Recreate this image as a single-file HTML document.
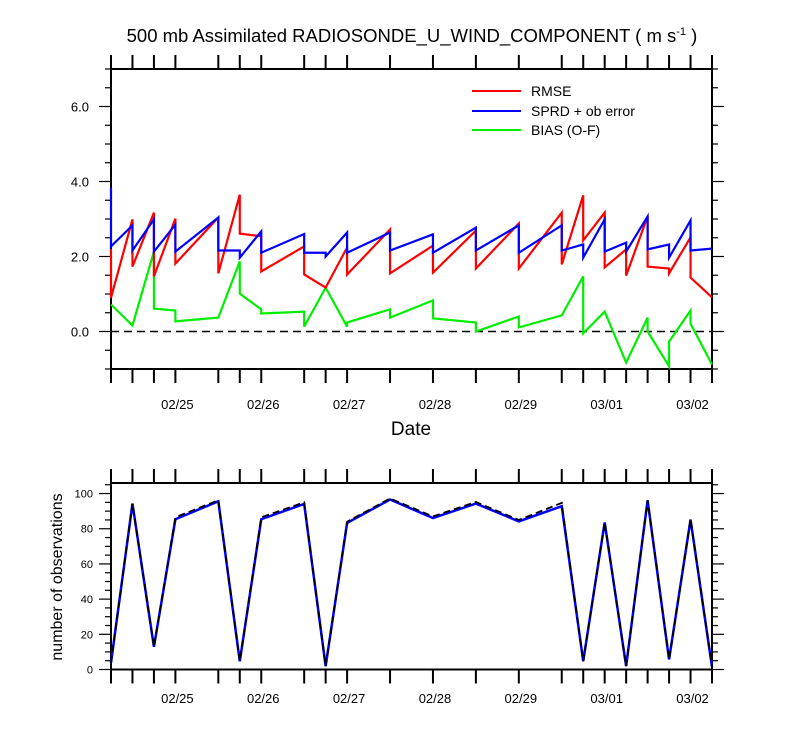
<!DOCTYPE html>
<html><head><meta charset="utf-8"><style>
body{margin:0;background:#fff;width:800px;height:750px;overflow:hidden}
svg text{font-family:"Liberation Sans",sans-serif}
</style></head><body>
<svg id="c" width="800" height="750" xmlns="http://www.w3.org/2000/svg"></svg>
<script>
const times=[0,1,2,3,5,6,7,9,10,11,13,15,17,19,21,22,23,24,25,26,27,28];
const rmseA=[2.2,2.99,3.17,3.01,3.04,3.65,2.54,2.27,1.17,2.24,2.72,2.29,2.69,2.88,3.17,3.63,3.17,2.19,3.07,1.68,2.51,0.91];
const rmseB=[0.9,1.73,1.47,1.81,1.55,2.61,1.6,1.52,1.17,1.52,1.55,1.57,1.68,1.68,1.79,2.43,1.71,1.49,1.73,1.55,1.44,0.91];
const sprdA=[3.84,2.83,2.99,2.85,3.04,2.16,2.67,2.6,2.1,2.64,2.64,2.59,2.77,2.83,2.83,2.32,2.99,2.37,3.07,2.32,2.96,2.21];
const sprdB=[2.27,2.16,2.13,2.13,2.16,1.97,2.1,2.1,2.0,2.1,2.16,2.1,2.16,2.1,2.16,1.97,2.13,2.13,2.19,1.97,2.16,2.21];
const biasA=[0.72,0.16,2.13,0.56,0.37,1.87,0.59,0.53,1.17,0.13,0.59,0.83,0.24,0.4,0.43,1.47,0.53,-0.83,0.37,-0.93,0.56,-0.88];
const biasB=[0.72,0.16,0.61,0.27,0.37,1.01,0.48,0.13,1.17,0.24,0.37,0.35,0.0,0.11,0.43,-0.05,0.53,-0.83,0.0,-0.27,0.21,-0.88];
const nAssim=[3.8,94.3,12.9,85.4,95.6,4.7,85.4,94.1,1.9,83.3,96.6,86.1,94.3,84.2,92.8,4.7,83.6,1.9,96.2,5.7,85.2,1.5];
const nTotal=[3.8,94.3,12.9,86.5,96.2,4.7,86.5,95,1.9,84,97.2,87,95.2,85,94.7,4.7,83.6,1.9,96.2,5.7,85.2,1.5];
const dateLabels=["02/25","02/26","02/27","02/28","02/29","03/01","03/02"];
const dateTimes=[3,7,11,15,19,23,27];
const topYTicks=[0,2,4,6];
const botYTicks=[0,20,40,60,80,100];

const NS="http://www.w3.org/2000/svg";
const svg=document.getElementById('c');
function el(tag,attrs,parent){const e=document.createElementNS(NS,tag);for(const k in attrs)e.setAttribute(k,attrs[k]);(parent||svg).appendChild(e);return e;}
const X0=111,X1=712;
const xs=t=>X0+(X1-X0)*t/28;
const T={top:69,bot:369,min:-1,max:7};
const B={top:483,bot:669.5,min:0,max:106};
const yT=v=>T.bot-(v-T.min)/(T.max-T.min)*(T.bot-T.top);
const yB=v=>B.bot-(v-B.min)/(B.max-B.min)*(B.bot-B.top);

function frame(P,yf,ticks,minorStep,name){
  const g=el('g',{});
  
  
  el('rect',{x:X0,y:P.top,width:X1-X0,height:P.bot-P.top,fill:'none',stroke:'#000','stroke-width':2},g);
  times.forEach(t=>{const x=xs(t);
    el('line',{x1:x,x2:x,y1:P.top,y2:P.top-14,stroke:'#000','stroke-width':2},g);
    el('line',{x1:x,x2:x,y1:P.bot,y2:P.bot+14,stroke:'#000','stroke-width':2},g);});
  for(let v=P.min;v<=P.max+1e-9;v+=minorStep){const y=yf(v);
    const major=ticks.some(t=>Math.abs(t-v)<1e-6);const L=major?12:6;
    el('line',{x1:X0,x2:X0-L,y1:y,y2:y,stroke:'#000','stroke-width':1.2},g);
    el('line',{x1:X1,x2:X1+L,y1:y,y2:y,stroke:'#000','stroke-width':1.2},g);}
}
frame(T,yT,topYTicks,0.5,'top-plot');
frame(B,yB,botYTicks,5,'bottom-plot');

const z=el('line',{x1:X0,x2:X1,y1:yT(0),y2:yT(0),stroke:'#000','stroke-width':1.5,'stroke-dasharray':'8,5'});



function saw(A,Bv,color,name){
  let d='';
  times.forEach((t,i)=>{const x=xs(t);d+=(i?'L':'M')+x+','+yT(A[i])+'L'+x+','+yT(Bv[i]);});
  const p=el('path',{d:d,fill:'none',stroke:color,'stroke-width':2.2,'stroke-linejoin':'miter'});
  
  
}
saw(biasA,biasB,'#00ee00','bias-line');
saw(rmseA,rmseB,'#ff0000','rmse-line');
saw(sprdA,sprdB,'#0000ff','sprd-line');

function line(vals,color,dash,w,name){
  const d=times.map((t,i)=>(i?'L':'M')+xs(t)+','+yB(vals[i])).join('');
  const p=el('path',{d:d,fill:'none',stroke:color,'stroke-width':w});
  if(dash)p.setAttribute('stroke-dasharray',dash);
  
  
}
line(nAssim,'#0000ff',null,2.5,'assimilated-count-line');
line(nTotal,'#000',"7,4",1.8,'total-count-line');

topYTicks.forEach(v=>{const t=el('text',{x:89,y:yT(v)+5,'text-anchor':'end','font-size':13});t.textContent=v.toFixed(1);
  
  });
botYTicks.forEach(v=>{const t=el('text',{x:93,y:yB(v)+4,'text-anchor':'end','font-size':11});t.textContent=v;
  
  });
dateTimes.forEach((tt,i)=>{
  const a=el('text',{x:xs(tt)+2,y:409,'text-anchor':'middle','font-size':13});a.textContent=dateLabels[i];
  
  
  const b=el('text',{x:xs(tt)+2,y:703,'text-anchor':'middle','font-size':13});b.textContent=dateLabels[i];
  
  });

const leg=[['RMSE','#ff0000',91],['SPRD + ob error','#0000ff',111],['BIAS (O-F)','#00ee00',130]];
leg.forEach(l=>{const g=el('g',{});
  
  
  el('line',{x1:472,x2:521,y1:l[2],y2:l[2],stroke:l[1],'stroke-width':2},g);
  const t=el('text',{x:531,y:l[2]+5,'font-size':14},g);t.textContent=l[0];});
</script>
<svg width="800" height="750" style="position:absolute;left:0;top:0" xmlns="http://www.w3.org/2000/svg">
<text x="412" y="42" text-anchor="middle" font-size="18.5" font-family="Liberation Sans, sans-serif">500 mb Assimilated RADIOSONDE_U_WIND_COMPONENT ( m s<tspan dy="-7" font-size="11">-1</tspan><tspan dy="7"> )</tspan></text>
<text x="411" y="435" text-anchor="middle" font-size="19" font-family="Liberation Sans, sans-serif">Date</text>
<text x="0" y="0" transform="translate(62,577) rotate(-90)" text-anchor="middle" font-size="16" font-family="Liberation Sans, sans-serif">number of observations</text>
</svg>
</body></html>
